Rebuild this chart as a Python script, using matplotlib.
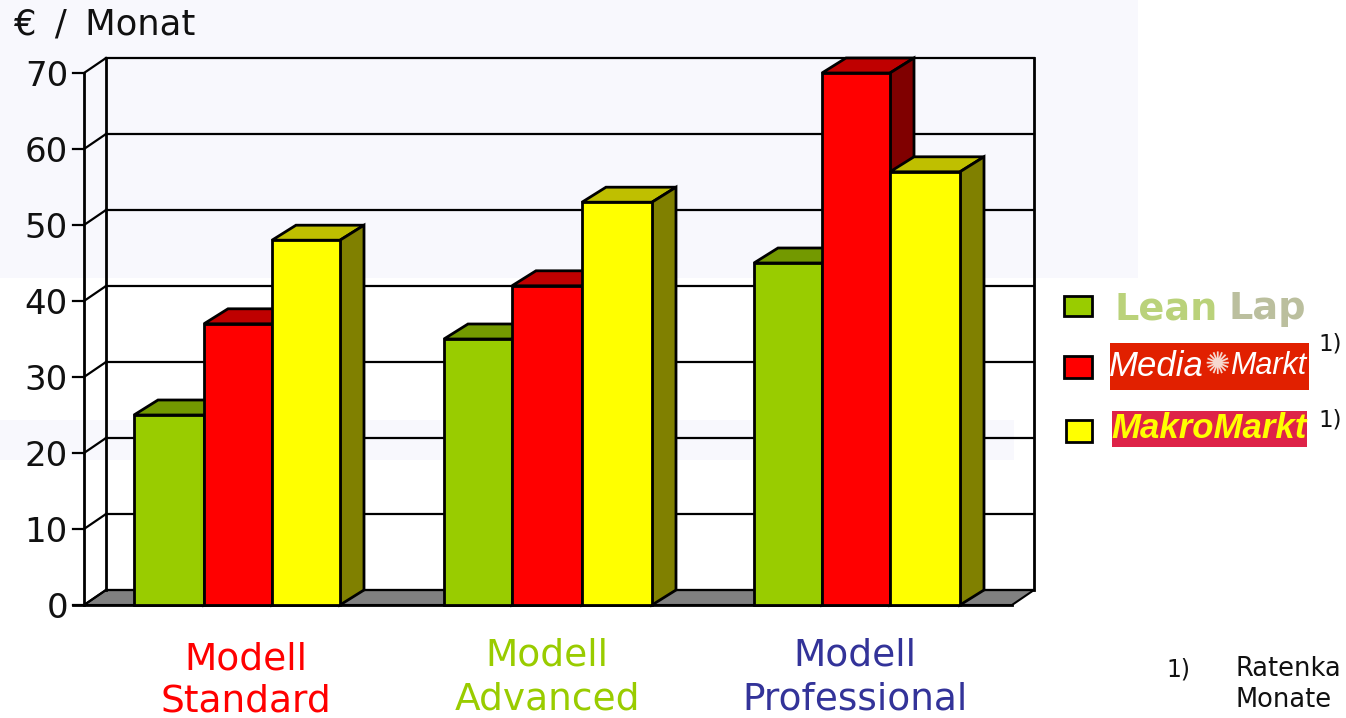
import matplotlib
matplotlib.use("Agg")
import matplotlib.pyplot as plt
from matplotlib.patches import Polygon, Rectangle

models = ["Modell\nStandard", "Modell\nAdvanced", "Modell\nProfessional"]
model_colors = ["#FF0000", "#99CC00", "#333399"]
lean_lap = [25, 35, 45]
media_markt = [37, 42, 70]
makro_markt = [48, 53, 57]
yticks = [0, 10, 20, 30, 40, 50, 60, 70]
series = [lean_lap, media_markt, makro_markt]
face = ["#99CC00", "#FF0000", "#FFFF00"]
top = ["#739900", "#BF0000", "#BFBF00"]
side = ["#4D6600", "#800000", "#808000"]
group_edges = [[134, 204, 272, 340], [444, 512, 582, 652], [754, 822, 890, 960]]

W, H = 1346, 718
fig = plt.figure(figsize=(W/100, H/100), dpi=100)
ax = fig.add_axes([0, 0, 1, 1])
ppu = 7.6
ax.set_xlim(0, W)
ax.set_ylim(-(H-605)/ppu, 605/ppu)
ax.axis("off")
plt.rcParams['font.family'] = ['DejaVu Sans']
py = lambda p: (605-p)/ppu   # pixel row to value scale, for layout only
dx, dy = 22, 15/ppu
bdx = 24
BG = "#F8F8FD"
k = dict(edgecolor="black", linewidth=2, joinstyle="miter")

# faint slide background
ax.add_patch(Rectangle((0, py(278)), 1138, py(0)-py(278), fc=BG, ec="none", zorder=0))
ax.add_patch(Rectangle((0, py(460)), 1014, py(420)-py(460), fc="#F8F8FD", ec="none", zorder=0))

# floor, walls and grid
L, R = 84, 1012
ax.add_patch(Polygon([(L, 0), (L+dx, dy), (R+dx, dy), (R, 0)], fc="#808080", ec="black", lw=1.5, zorder=1))
for v in yticks:
    ax.plot([L, L+dx], [v, v+dy], color="black", lw=1.6, zorder=1)
    ax.plot([L+dx, R+dx], [v+dy, v+dy], color="black", lw=1.6, zorder=1)
    ax.plot([L-11, L], [v, v], color="black", lw=1.6, zorder=1)
    ax.text(L-16, v-0.45, str(v), ha="right", va="center", fontsize=24.5, color="#111111")
ax.plot([L, L], [0, 70], color="black", lw=2, zorder=1)
ax.plot([L+dx, L+dx], [dy, 70+dy], color="black", lw=2, zorder=1)
ax.plot([R+dx, R+dx], [dy, 70+dy], color="black", lw=2, zorder=1)
ax.plot([L-11, R], [0, 0], color="black", lw=2, zorder=1)

# bars with fake 3D depth
z = 2
for g, edges in enumerate(group_edges):
    for s, vals in enumerate(series):
        v = vals[g]
        x0, x1 = edges[s], edges[s+1]
        ax.add_patch(Polygon([(x0, v), (x0+bdx, v+dy), (x1+bdx, v+dy), (x1, v)], fc=top[s], zorder=z, **k))
        ax.add_patch(Polygon([(x1, 0), (x1+bdx, dy), (x1+bdx, v+dy), (x1, v)], fc=side[s], zorder=z, **k))
        ax.add_patch(Rectangle((x0, 0), x1-x0, v, fc=face[s], zorder=z+1, **k))
        z += 2

# titles and category labels
ax.text(14, py(25), "€\u2009 /\u2009 Monat", ha="left", va="center", fontsize=25.5, color="#111111")
for x, ys, label, col in zip([246, 547, 855], [(660, 701), (656, 700), (656, 700)], models, model_colors):
    a, b = label.split("\n")
    ax.text(x, py(ys[0]), a, ha="center", va="center", fontsize=27, color=col)
    ax.text(x, py(ys[1]), b, ha="center", va="center", fontsize=27, color=col)

# legend
for (x, y, w, h), c in zip([(1064, 296, 28, 20), (1064, 356, 28, 22), (1066, 420, 26, 22)], face):
    ax.add_patch(Rectangle((x, py(y+h)), w, py(y)-py(y+h), fc=c, zorder=50, **k))
ax.text(1114, py(309), "Lean", ha="left", va="center", fontsize=27.5, weight="bold", color="#BAD27A")
ax.text(1228, py(309), "Lap", ha="left", va="center", fontsize=27.5, weight="bold", color="#BBBF9E")
ax.add_patch(Rectangle((1110, py(390)), 199, py(343)-py(390), fc="#E12000", ec="none", zorder=50))
ax.text(1204, py(366), "Media", ha="right", va="center", fontsize=25, style="italic", color="white",
        family="Liberation Sans", zorder=60)
ax.text(1217, py(366), "✺", ha="center", va="center", fontsize=22, color="#F6D8CF", zorder=60)
ax.text(1230, py(366), "Markt", ha="left", va="center", fontsize=22, style="italic", color="white",
        family="Liberation Sans", zorder=60)
ax.add_patch(Rectangle((1112, py(447)), 195, py(411)-py(447), fc="#DE2348", ec="none", zorder=50))
ax.text(1209.5, py(429), "MakroMarkt", ha="center", va="center", fontsize=25, style="italic", weight="bold",
        color="#FFFF00", family="Liberation Sans", zorder=60)
ax.text(1318, py(344), "1)", ha="left", va="center", fontsize=16.5, color="#111111")
ax.text(1318, py(420), "1)", ha="left", va="center", fontsize=16.5, color="#111111")

# footnote (clipped at the slide edge)
ax.text(1166, py(669), "1)", ha="left", va="center", fontsize=17, color="#111111")
ax.text(1236, py(669), "Ratenka", ha="left", va="center", fontsize=18.5, color="#111111")
ax.text(1236, py(700), "Monate", ha="left", va="center", fontsize=18.5, color="#111111")

fig.savefig("out.png", dpi=100)
